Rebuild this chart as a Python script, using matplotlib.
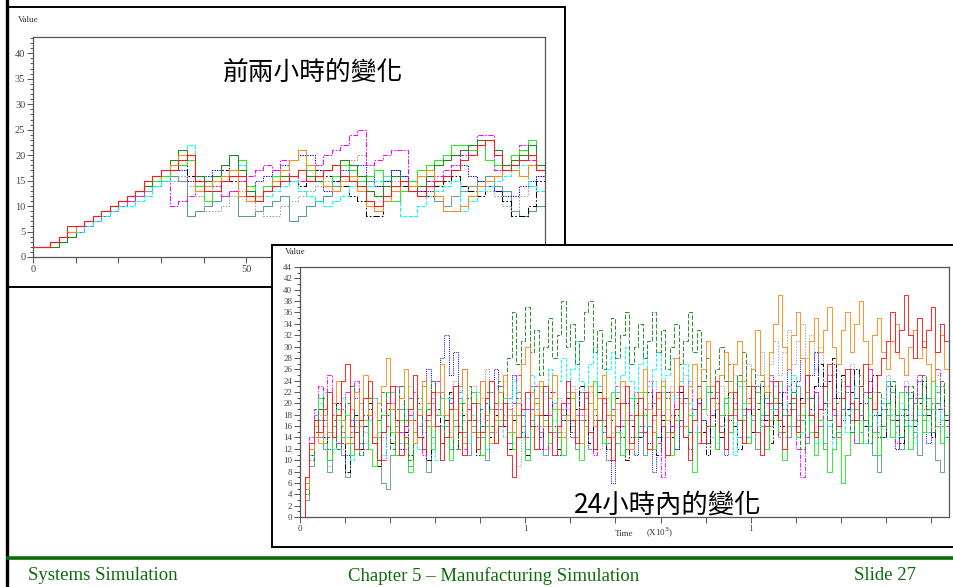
import matplotlib
matplotlib.use("Agg")
import matplotlib.pyplot as plt
from matplotlib.patches import Rectangle
from matplotlib.lines import Line2D
from matplotlib.ticker import MultipleLocator, FixedLocator, FuncFormatter

# ---------------- data: panel 1 (first two hours, values every 2 minutes) ----------------
t1 = list(range(0, 121, 2))
red1 = [2, 2, 3, 4, 6, 6, 7, 8, 9, 10,
        11, 12, 13, 15, 16, 17, 17, 19, 20, 15,
        13, 13, 15, 16, 16, 12, 11, 13, 14, 15,
        16, 17, 15, 16, 17, 18, 16, 15, 14, 11,
        10, 12, 14, 15, 13, 12, 14, 15, 16, 17,
        19, 20, 22, 23, 20, 17, 18, 19, 20, 17, 19]
lime1 = [2, 2, 3, 3, 5, 6, 7, 8, 9, 10,
         11, 12, 13, 14, 15, 16, 17, 18, 19, 14,
         11, 13, 15, 17, 19, 14, 12, 14, 16, 17,
         19, 21, 17, 15, 14, 16, 18, 17, 15, 16,
         17, 14, 11, 13, 15, 17, 18, 19, 20, 22,
         22, 21, 23, 19, 18, 17, 20, 21, 23, 18, 17]
dgreen1 = [2, 2, 2, 3, 4, 6, 7, 8, 9, 10,
           11, 12, 13, 14, 16, 17, 19, 21, 20, 16,
           15, 16, 18, 20, 17, 13, 12, 13, 15, 16,
           16, 17, 16, 15, 17, 18, 19, 18, 16, 13,
           12, 14, 16, 15, 13, 14, 16, 18, 19, 20,
           21, 22, 23, 23, 21, 18, 19, 20, 22, 18, 19]
orange1 = [2, 2, 3, 4, 5, 6, 7, 8, 9, 10,
           11, 12, 13, 15, 16, 17, 18, 20, 20, 13,
           14, 15, 16, 17, 12, 11, 12, 13, 15, 17,
           19, 21, 18, 16, 14, 13, 15, 16, 13, 10,
           9, 11, 13, 15, 14, 16, 17, 12, 9, 9,
           10, 12, 14, 15, 16, 17, 17, 16, 18, 17, 18]
magenta1 = [2, 2, 3, 4, 5, 5, 6, 7, 8, 9,
            10, 11, 12, 14, 15, 16, 10, 11, 12, 14,
            15, 14, 12, 13, 15, 16, 17, 18, 17, 19,
            16, 15, 17, 18, 20, 21, 22, 24, 25, 18,
            19, 20, 21, 21, 14, 13, 15, 16, 17, 18,
            20, 22, 24, 24, 17, 18, 20, 22, 19, 17, 16]
blue1 = [2, 2, 3, 4, 5, 6, 7, 8, 9, 10,
         11, 12, 13, 14, 16, 17, 18, 17, 15, 14,
         16, 17, 18, 17, 15, 14, 15, 16, 17, 18,
         19, 20, 20, 17, 13, 15, 17, 18, 18, 16,
         14, 15, 17, 16, 15, 14, 13, 15, 16, 17,
         18, 16, 15, 14, 13, 12, 12, 14, 15, 16, 17]
cyan1 = [2, 2, 2, 3, 4, 5, 6, 7, 8, 9,
         10, 10, 11, 12, 14, 15, 17, 19, 22, 15,
         14, 13, 15, 16, 18, 12, 11, 12, 13, 14,
         15, 13, 12, 11, 10, 11, 12, 14, 15, 14,
         15, 16, 14, 8, 8, 10, 12, 13, 14, 15,
         9, 11, 13, 14, 15, 16, 17, 18, 14, 13, 14]
black1 = [2, 2, 3, 4, 5, 6, 7, 8, 9, 10,
          11, 12, 13, 14, 15, 16, 17, 18, 16, 14,
          15, 16, 17, 15, 12, 11, 12, 13, 14, 16,
          15, 14, 16, 17, 16, 15, 14, 12, 11, 8,
          8, 11, 13, 14, 15, 13, 12, 14, 15, 16,
          14, 13, 12, 14, 13, 11, 8, 8, 10, 15, 18]
gray1 = [2, 2, 3, 4, 5, 5, 6, 7, 8, 9,
         10, 11, 12, 13, 14, 15, 15, 16, 14, 12,
         9, 9, 10, 12, 13, 14, 9, 8, 8, 10,
         11, 12, 13, 14, 15, 16, 18, 19, 20, 18,
         17, 16, 15, 14, 13, 14, 15, 11, 10, 12,
         13, 14, 15, 13, 12, 10, 9, 12, 14, 16, 17]
cadet1 = [2, 2, 2, 3, 4, 5, 6, 7, 8, 9,
          10, 11, 12, 13, 14, 15, 16, 15, 8, 9,
          10, 11, 12, 13, 8, 8, 9, 10, 11, 12,
          7, 8, 10, 11, 12, 14, 16, 17, 16, 15,
          14, 15, 17, 16, 15, 13, 12, 11, 10, 12,
          13, 14, 15, 16, 14, 13, 9, 8, 9, 10, 12]

# ---------------- data: panel 2 (24 hours, values every 10 minutes) ----------------
t2 = list(range(0, 1441, 10))
red2 = [0, 7, 13, 17, 15, 19, 22, 14, 18, 24, 27, 16, 12, 17, 21,
        24, 13, 10, 15, 20, 23, 17, 11, 16, 19, 25, 14, 12, 18, 22,
        16, 10, 14, 19, 23, 15, 11, 17, 20, 12, 15, 21, 24, 13, 16,
        20, 11, 7, 14, 19, 22, 16, 12, 18, 23, 15, 11, 16, 20, 24,
        17, 13, 19, 22, 15, 12, 17, 21, 14, 10, 16, 20, 23, 13, 18,
        21, 15, 12, 18, 22, 16, 11, 15, 19, 23, 14, 10, 17, 20, 13,
        16, 21, 24, 15, 12, 18, 22, 17, 13, 19, 23, 15, 11, 16, 20,
        24, 17, 12, 18, 21, 15, 20, 25, 18, 14, 19, 23, 27, 19, 16,
        21, 26, 20, 17, 23, 27, 22, 19, 25, 28, 31, 36, 29, 33, 39,
        32, 28, 35, 30, 33, 37, 29, 34, 31, 36]
orange2 = [0, 5, 12, 16, 13, 18, 15, 20, 24, 17, 13, 19, 22, 16, 25,
           18, 14, 20, 23, 28, 19, 15, 21, 26, 17, 13, 18, 24, 20, 16,
           22, 27, 18, 14, 19, 23, 26, 17, 15, 20, 24, 18, 13, 17, 22,
           25, 19, 15, 20, 27, 30, 22, 18, 24, 16, 21, 25, 19, 14, 18,
           22, 17, 13, 19, 23, 16, 21, 25, 18, 14, 20, 24, 17, 12, 18,
           22, 26, 19, 15, 21, 24, 17, 22, 28, 20, 16, 23, 27, 21, 26,
           31, 23, 19, 25, 29, 22, 27, 31, 24, 20, 26, 33, 25, 22, 29,
           34, 39, 30, 26, 32, 36, 28, 25, 31, 35, 29, 33, 37, 30, 27,
           33, 36, 29, 34, 38, 31, 27, 32, 35, 29, 26, 31, 34, 28, 25,
           30, 33, 28, 31, 27, 24, 29, 32, 26, 30]
dgreen2 = [0, 4, 10, 15, 19, 21, 14, 17, 12, 16, 20, 23, 15, 11, 18,
           21, 13, 17, 22, 16, 12, 19, 23, 14, 10, 17, 21, 15, 19, 24,
           16, 13, 18, 21, 12, 15, 20, 23, 17, 14, 19, 22, 16, 20, 24,
           18, 28, 36, 27, 31, 37, 29, 33, 25, 30, 35, 28, 32, 38, 30,
           34, 27, 31, 36, 38, 29, 33, 26, 31, 35, 28, 32, 36, 27, 30,
           34, 28, 31, 36, 29, 33, 26, 30, 34, 27, 31, 36, 29, 33, 24,
           28, 22, 26, 30, 24, 27, 21, 25, 29, 23, 26, 20, 24, 18, 22,
           17, 20, 15, 19, 22, 16, 12, 18, 21, 15, 19, 23, 17, 14, 20,
           24, 18, 15, 21, 25, 17, 13, 19, 22, 16, 20, 24, 18, 14, 19,
           23, 17, 21, 25, 19, 15, 20, 24, 18, 16]
lime2 = [0, 6, 12, 17, 21, 13, 10, 16, 19, 14, 18, 11, 15, 20, 17,
         12, 9, 14, 18, 22, 15, 11, 17, 13, 8, 15, 19, 23, 16, 12,
         18, 21, 14, 10, 16, 20, 13, 17, 22, 15, 11, 16, 19, 13, 17,
         21, 15, 12, 18, 14, 10, 16, 20, 23, 17, 13, 19, 15, 11, 17,
         21, 14, 10, 16, 20, 24, 17, 13, 18, 22, 15, 11, 17, 21, 14,
         18, 22, 16, 12, 19, 23, 15, 11, 17, 20, 14, 18, 8, 15, 19,
         23, 16, 12, 18, 21, 15, 19, 24, 17, 13, 18, 22, 16, 12, 17,
         21, 15, 10, 16, 20, 14, 18, 22, 15, 11, 17, 13, 8, 12, 16,
         6, 11, 15, 19, 13, 17, 21, 15, 11, 16, 20, 14, 18, 22, 16,
         12, 17, 21, 15, 19, 24, 16, 13, 18, 22]
cyan2 = [0, 5, 11, 16, 20, 22, 15, 12, 17, 21, 14, 10, 16, 19, 13,
         17, 21, 15, 11, 18, 22, 16, 13, 19, 23, 15, 12, 17, 20, 14,
         10, 16, 21, 15, 19, 23, 17, 13, 18, 22, 16, 12, 19, 23, 17,
         14, 20, 24, 18, 15, 21, 25, 19, 16, 22, 26, 20, 24, 28, 22,
         26, 31, 24, 21, 27, 30, 23, 20, 26, 29, 22, 25, 30, 24, 21,
         27, 30, 23, 26, 29, 22, 25, 28, 21, 24, 27, 20, 18, 15, 19,
         22, 16, 13, 18, 21, 15, 11, 17, 20, 14, 18, 22, 16, 12, 19,
         23, 17, 14, 20, 25, 18, 15, 21, 17, 13, 19, 23, 16, 12, 18,
         21, 15, 19, 23, 17, 13, 18, 22, 16, 20, 24, 18, 14, 19, 22,
         16, 13, 18, 21, 15, 19, 23, 17, 14, 20]
blue2 = [0, 6, 13, 18, 14, 17, 12, 16, 20, 15, 11, 17, 21, 13, 16,
         19, 14, 10, 15, 18, 22, 16, 12, 17, 21, 15, 18, 23, 26, 20,
         24, 28, 32, 25, 29, 22, 26, 19, 15, 20, 24, 17, 22, 26, 19,
         16, 21, 25, 18, 14, 19, 23, 16, 12, 18, 21, 15, 11, 17, 20,
         14, 18, 22, 16, 12, 17, 21, 15, 10, 6, 13, 17, 20, 14, 11,
         16, 19, 13, 8, 14, 18, 22, 16, 12, 17, 21, 15, 19, 23, 17,
         13, 18, 21, 15, 11, 17, 20, 24, 18, 14, 19, 23, 17, 21, 25,
         19, 16, 22, 26, 20, 24, 28, 22, 25, 29, 23, 19, 24, 27, 21,
         17, 22, 26, 19, 15, 20, 24, 18, 14, 19, 23, 17, 12, 18, 22,
         16, 20, 24, 18, 13, 19, 22, 16, 14, 18]
magenta2 = [0, 7, 14, 19, 23, 16, 25, 18, 13, 19, 22, 15, 24, 17, 12,
            18, 21, 14, 10, 16, 20, 23, 15, 12, 18, 22, 16, 11, 17, 21,
            24, 18, 14, 20, 23, 16, 12, 19, 22, 15, 24, 18, 13, 19, 23,
            17, 13, 20, 25, 18, 14, 19, 23, 16, 12, 18, 22, 15, 19, 24,
            17, 13, 18, 21, 15, 11, 17, 20, 14, 19, 23, 16, 12, 18, 22,
            15, 19, 24, 17, 13, 7, 14, 18, 22, 16, 20, 24, 17, 13, 19,
            22, 16, 12, 18, 21, 15, 19, 23, 17, 13, 18, 22, 16, 20, 24,
            18, 14, 19, 23, 16, 12, 7, 14, 18, 22, 16, 20, 25, 18, 14,
            19, 23, 17, 13, 18, 22, 26, 19, 15, 20, 24, 17, 13, 19, 23,
            17, 21, 25, 19, 15, 20, 26, 19, 16, 22]
black2 = [0, 5, 11, 15, 19, 14, 10, 16, 20, 13, 8, 14, 18, 12, 16,
          20, 14, 9, 15, 19, 13, 17, 21, 15, 11, 17, 20, 14, 10, 16,
          19, 13, 17, 22, 16, 12, 18, 21, 15, 11, 16, 20, 14, 18, 22,
          16, 12, 17, 21, 15, 11, 16, 20, 14, 18, 22, 16, 12, 17, 21,
          15, 19, 23, 17, 13, 18, 22, 16, 12, 17, 21, 14, 10, 16, 20,
          14, 18, 22, 15, 11, 17, 21, 14, 18, 22, 16, 12, 17, 21, 15,
          11, 16, 20, 14, 18, 22, 16, 12, 17, 21, 15, 19, 23, 17, 13,
          18, 22, 16, 20, 24, 17, 21, 25, 19, 23, 27, 20, 24, 28, 21,
          25, 19, 22, 26, 20, 16, 21, 25, 18, 14, 19, 23, 17, 13, 18,
          22, 16, 20, 24, 18, 14, 19, 23, 17, 15]
gray2 = [0, 4, 9, 14, 18, 13, 9, 15, 19, 12, 8, 14, 17, 11, 15,
         19, 13, 9, 14, 18, 22, 16, 12, 17, 21, 15, 19, 23, 17, 13,
         18, 22, 16, 20, 24, 18, 14, 19, 23, 17, 21, 26, 19, 15, 20,
         24, 18, 13, 9, 15, 19, 14, 18, 22, 16, 12, 17, 21, 15, 19,
         23, 17, 13, 18, 22, 16, 12, 17, 21, 15, 19, 23, 17, 13, 18,
         22, 16, 20, 24, 18, 14, 19, 23, 17, 21, 25, 19, 15, 20, 24,
         18, 14, 19, 23, 17, 21, 25, 19, 23, 27, 21, 25, 29, 23, 27,
         31, 25, 29, 33, 27, 31, 34, 28, 32, 26, 30, 24, 20, 25, 22,
         18, 23, 27, 21, 17, 22, 26, 20, 16, 21, 25, 19, 15, 20, 24,
         18, 14, 19, 23, 17, 21, 25, 19, 16, 20]
cadet2 = [0, 3, 9, 14, 17, 12, 8, 14, 18, 11, 7, 13, 17, 12, 16,
          20, 14, 10, 6, 5, 11, 15, 19, 13, 9, 15, 18, 12, 8, 14,
          18, 22, 16, 12, 17, 21, 15, 11, 16, 20, 14, 10, 15, 19, 23,
          17, 13, 18, 22, 16, 12, 17, 21, 15, 11, 16, 20, 14, 18, 22,
          16, 12, 17, 21, 15, 19, 23, 17, 13, 18, 22, 16, 12, 17, 21,
          15, 11, 16, 20, 14, 18, 22, 16, 12, 17, 21, 15, 19, 23, 17,
          13, 18, 22, 16, 20, 24, 18, 14, 19, 23, 17, 12, 18, 22, 16,
          20, 24, 18, 14, 19, 23, 17, 13, 18, 22, 16, 12, 17, 21, 15,
          19, 23, 17, 13, 18, 22, 16, 11, 8, 14, 18, 22, 16, 12, 17,
          21, 15, 11, 17, 21, 15, 10, 8, 14, 19]

# text
title1 = "前兩小時的變化"
title2 = "24小時內的變化"
y_label = "Value"
x_label = "Time"
x_unit = r"(X10$^3$)"
x2_tick_labels = ["0", "1", "1"]
x2_tick_pos = [0, 500, 1000]
footer_left = "Systems Simulation"
footer_mid = "Chapter 5 \u2013 Manufacturing Simulation"
footer_right = "Slide 27"

# ---------------- styles ----------------
series_style = [  # name, color, linestyle panel1, linestyle panel2
    ("cadet", "#5f9a9a", "-", "-"),
    ("gray", "#a0a0a0", (0, (1.5, 1.5)), (0, (1.5, 1.5))),
    ("black", "#000000", (0, (6, 2, 1.5, 2)), (0, (6, 2, 1.5, 2))),
    ("blue", "#0000ff", (0, (1.2, 1.2)), (0, (1.2, 1.2))),
    ("magenta", "#ff00ff", (0, (5, 1.5, 1.5, 1.5)), (0, (5, 1.5, 1.5, 1.5))),
    ("cyan", "#00ffff", (0, (4, 1.5)), (0, (4, 1.5))),
    ("lime", "#22ee22", "-", "-"),
    ("dgreen", "#1f8a1f", "-", (0, (5, 2))),
    ("orange", "#ff8c1a", "-", "-"),
    ("red", "#ff1a1a", "-", "-"),
]
data1 = {"red": red1, "lime": lime1, "dgreen": dgreen1, "orange": orange1,
         "magenta": magenta1, "blue": blue1, "cyan": cyan1, "black": black1,
         "gray": gray1, "cadet": cadet1}
data2 = {"red": red2, "lime": lime2, "dgreen": dgreen2, "orange": orange2,
         "magenta": magenta2, "blue": blue2, "cyan": cyan2, "black": black2,
         "gray": gray2, "cadet": cadet2}

W, H = 954, 587
fig = plt.figure(figsize=(W / 100, H / 100), dpi=100)
fig.patch.set_facecolor("white")


def fx(x):
    return x / W


def fy(y):
    return 1 - y / H


def rect(l, t, r, b):
    return [fx(l), fy(b), (r - l) / W, (b - t) / H]


axis_col = "#555555"


def style_axes(ax, labsize):
    for s in ax.spines.values():
        s.set_color(axis_col)
        s.set_linewidth(0.9)
    ax.tick_params(which="both", direction="out", colors=axis_col,
                   labelcolor="#444444", labelsize=labsize, width=0.7)
    ax.tick_params(which="major", length=4, pad=1.5)
    ax.tick_params(which="minor", length=2)
    for lab in ax.get_xticklabels() + ax.get_yticklabels():
        lab.set_family("Liberation Serif")


# left slide bar
fig.add_artist(Line2D([fx(7.5), fx(7.5)], [0, 1], color="black", lw=2.4,
                      transform=fig.transFigure, zorder=6))

# ---------------- panel 1 ----------------
fig.add_artist(Rectangle((fx(8), fy(287)), (565 - 8) / W, (287 - 7) / H,
                         transform=fig.transFigure, fill=False,
                         ec="black", lw=1.4, zorder=1))
ax1 = fig.add_axes(rect(33, 37, 545, 257), zorder=0.5)
for name, col, ls, _ in series_style:
    ax1.step(t1, data1[name], where="post", color=col, ls=ls, lw=0.75)
ax1.set_xlim(0, 120)
ax1.set_ylim(0, 43.2)
ax1.yaxis.set_major_locator(FixedLocator(list(range(0, 41, 5))))
ax1.yaxis.set_minor_locator(MultipleLocator(1))
ax1.xaxis.set_major_locator(MultipleLocator(10))
ax1.xaxis.set_major_formatter(FuncFormatter(lambda v, p: f"{int(v)}" if int(v) % 50 == 0 else ""))
style_axes(ax1, 7.5)
fig.text(fx(18), fy(20), y_label, fontsize=6.5, family="Liberation Serif",
         color="#333333", va="center", ha="left", zorder=1)
fig.text(fx(313), fy(73), title1, fontsize=18.5, family=["Noto Sans CJK TC", "DejaVu Sans"],
         ha="center", va="center", color="black", zorder=1)

# ---------------- panel 2 ----------------
fig.add_artist(Rectangle((fx(272), fy(547)), (990 - 272) / W, (547 - 245) / H,
                         transform=fig.transFigure, fc="white",
                         ec="black", lw=1.4, zorder=2))
ax2 = fig.add_axes(rect(300, 267, 949, 517), zorder=3)
for name, col, _, ls in series_style:
    ax2.step(t2, data2[name], where="post", color=col, ls=ls, lw=0.65)
ax2.set_xlim(0, 1440)
ax2.set_ylim(0, 44)
ax2.yaxis.set_major_locator(MultipleLocator(2))
ax2.yaxis.set_minor_locator(MultipleLocator(1))
ax2.xaxis.set_major_locator(MultipleLocator(100))
ax2.xaxis.set_major_formatter(FuncFormatter(
    lambda v, p: x2_tick_labels[x2_tick_pos.index(int(round(v)))] if int(round(v)) in x2_tick_pos else ""))
style_axes(ax2, 6.5)
fig.text(fx(285), fy(252), y_label, fontsize=6.5, family="Liberation Serif",
         color="#333333", va="center", ha="left", zorder=5)
fig.text(fx(624), fy(534), x_label, fontsize=6.5, family="Liberation Serif",
         color="#333333", va="center", ha="center", zorder=5)
fig.text(fx(660), fy(533), x_unit, fontsize=6.5, family="Liberation Serif",
         color="#333333", va="center", ha="center", zorder=5)
fig.text(fx(668), fy(505), title2, fontsize=19, family=["Noto Sans CJK TC", "DejaVu Sans"],
         ha="center", va="center", color="black", zorder=5)

# ---------------- footer ----------------
fig.add_artist(Line2D([fx(8), 1], [fy(558), fy(558)], color="#0b6b0b", lw=2.6,
                      transform=fig.transFigure, zorder=6))
foot = dict(fontsize=13.5, family="Liberation Serif", color="#0b6b0b", va="center", zorder=6)
fig.text(fx(28), fy(576), footer_left, ha="left", **foot)
fig.text(fx(494), fy(576), footer_mid, ha="center", **foot)
fig.text(fx(916), fy(576), footer_right, ha="right", **foot)

fig.savefig("out.png", dpi=100, facecolor="white")
